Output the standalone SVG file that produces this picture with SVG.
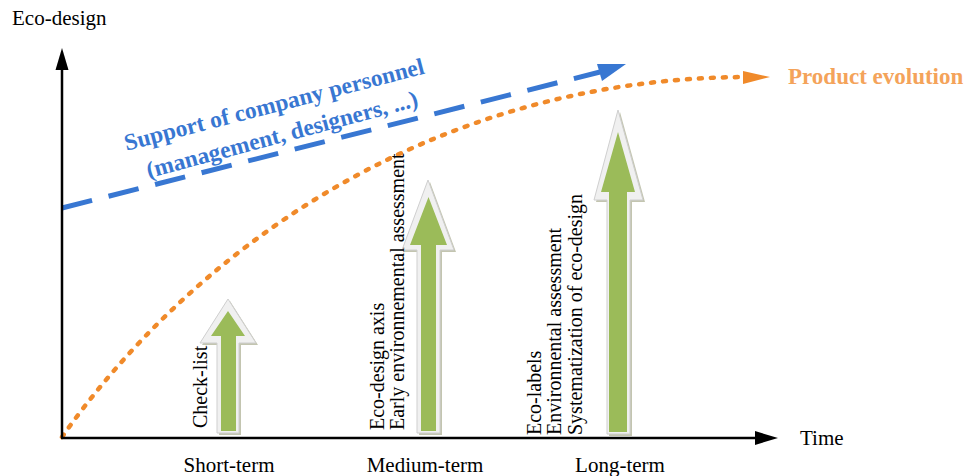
<svg xmlns="http://www.w3.org/2000/svg" width="970" height="476" viewBox="0 0 970 476">
<style>
.t{font-family:"Liberation Serif","Times New Roman",serif;font-size:21px;fill:#000}
.v{font-family:"Liberation Serif","Times New Roman",serif;font-size:20px;fill:#000}
.axis{stroke:#000;stroke-width:2.5;fill:none}
.outer{fill:#F0F0F0;stroke:#CFCFCF;stroke-width:1}
.shadow{fill:#A9AD8E;opacity:0.7}
.green{fill:#9BBB59}
.orange{stroke:#F08A2A;stroke-width:4.5;fill:none;stroke-dasharray:3 9;stroke-linecap:round}
.blue{stroke:#3877D2;stroke-width:5;fill:none;stroke-dasharray:31 17}
.bt{font-family:"Liberation Serif","Times New Roman",serif;font-weight:bold;font-size:23.5px;fill:#3877D2}
</style>
<rect width="970" height="476" fill="#fff"/>
<g id="connectors">
<path class="orange" d="M62,437 C185,262 420,77 750,77"/>
<polygon points="743,71 770,77 743,84" fill="#F08A2A"/>
<line class="blue" x1="62" y1="208" x2="600" y2="72"/>
<polygon points="597,64 626,64 602,81" fill="#3877D2"/>
</g>
<g id="axes">
<line class="axis" x1="62" y1="438" x2="62" y2="66"/>
<polygon points="62,48 55.5,70 68.5,70" fill="#000"/>
<line class="axis" x1="61" y1="438" x2="758" y2="438"/>
<polygon points="778,438 755,431 755,445" fill="#000"/>
<text class="t" x="12" y="25">Eco-design</text>
<text class="t" x="800" y="445">Time</text>
<text class="t" x="229" y="472" text-anchor="middle">Short-term</text>
<text class="t" x="425" y="472" text-anchor="middle">Medium-term</text>
<text class="t" x="620" y="472" text-anchor="middle">Long-term</text>
</g>
<g id="product-evolution">
<text x="788" y="84" font-family="'Liberation Serif','Times New Roman',serif" font-weight="bold" font-size="23" fill="#F4A35A">Product evolution</text>
</g>
<g id="support">
<text class="bt" transform="translate(276,112) rotate(-14.5)" text-anchor="middle">Support of company personnel</text>
<text class="bt" transform="translate(284,142) rotate(-15)" text-anchor="middle">(management, designers, ...)</text>
</g>
<g id="short-term">
<path class="shadow" d="M230,301 L258,345 L241,345 L241,435 L219,435 L219,345 L202,345 Z"/>
<path class="outer" d="M228,299 L256,343 L239,343 L239,433 L217,433 L217,343 L200,343 Z"/>
<path class="green" d="M228,311 L245,336 L236,336 L236,431 L221,431 L221,336 L211,336 Z"/>
<text class="v" transform="translate(207,428) rotate(-90)">Check-list</text>
</g>
<g id="medium-term">
<path class="shadow" d="M430,182 L456,252 L442,252 L442,435 L419,435 L419,252 L404,252 Z"/>
<path class="outer" d="M428,180 L454,250 L440,250 L440,433 L417,433 L417,250 L402,250 Z"/>
<path class="green" d="M428.5,197 L447,245 L436,245 L436,431 L421,431 L421,245 L410,245 Z"/>
<text class="v" transform="translate(384,430) rotate(-90)">Eco-design axis</text>
<text class="v" transform="translate(404,430) rotate(-90)">Early environnemental assessment</text>
</g>
<g id="long-term">
<path class="shadow" d="M620,112 L645,202 L632,202 L632,436 L609,436 L609,202 L596,202 Z"/>
<path class="outer" d="M618,110 L643,200 L630,200 L630,434 L607,434 L607,200 L594,200 Z"/>
<path class="green" d="M618,132 L635,192 L627,192 L627,432 L609,432 L609,192 L601,192 Z"/>
<text class="v" transform="translate(541,435) rotate(-90)">Eco-labels</text>
<text class="v" transform="translate(561,435) rotate(-90)">Environnental assessment</text>
<text class="v" transform="translate(582,435) rotate(-90)">Systematization of eco-design</text>
</g>
</svg>
